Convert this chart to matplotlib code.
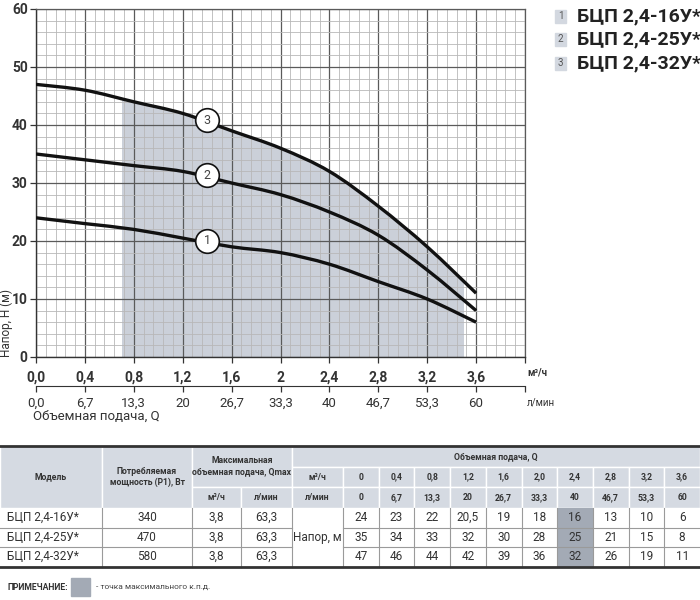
import matplotlib.pyplot as plt
import numpy as np
from matplotlib.patches import Rectangle, PathPatch
from matplotlib.path import Path

plt.rcParams['font.family'] = ['Roboto', 'DejaVu Sans']

# --- data (from the reference table) ---
q_m3h = [0, 0.4, 0.8, 1.2, 1.6, 2.0, 2.4, 2.8, 3.2, 3.6]
q_m3h_labels = ['0', '0,4', '0,8', '1,2', '1,6', '2,0', '2,4', '2,8', '3,2', '3,6']
q_lpm_labels = ['0', '6,7', '13,3', '20', '26,7', '33,3', '40', '46,7', '53,3', '60']
models = ['БЦП 2,4-16У*', 'БЦП 2,4-25У*', 'БЦП 2,4-32У*']
power_w = [340, 470, 580]
qmax_m3h = ['3,8', '3,8', '3,8']
qmax_lpm = ['63,3', '63,3', '63,3']
head_16 = [24, 23, 22, 20.5, 19, 18, 16, 13, 10, 6]
head_25 = [35, 34, 33, 32, 30, 28, 25, 21, 15, 8]
head_32 = [47, 46, 44, 42, 39, 36, 32, 26, 19, 11]
heads = [head_16, head_25, head_32]
best_q = 2.4  # max efficiency point
work_range = (0.7, 3.5)  # shaded working zone, m3/h

x_ticks = [0, 0.4, 0.8, 1.2, 1.6, 2.0, 2.4, 2.8, 3.2, 3.6, 4.0]
x_tick_labels = ['0,0', '0,4', '0,8', '1,2', '1,6', '2', '2,4', '2,8', '3,2', '3,6', '']
lpm_tick_labels = ['0,0', '6,7', '13,3', '20', '26,7', '33,3', '40', '46,7', '53,3', '60', '']


def smooth_path(xs, ys):
    # cubic bezier through every data point (Catmull-Rom style handles)
    p = np.column_stack([xs, ys]).astype(float)
    ext = np.vstack([p[0], p, p[-1]])
    verts = [p[0]]
    codes = [Path.MOVETO]
    for i in range(len(p) - 1):
        a, b, c, d = ext[i], ext[i + 1], ext[i + 2], ext[i + 3]
        verts += [b + (c - a) / 6, c - (d - b) / 6, c]
        codes += [Path.CURVE4] * 3
    return verts, codes


fig = plt.figure(figsize=(7, 6), dpi=100)
W, H = 700, 600

# main chart
ax = fig.add_axes([36 / W, 1 - 357 / H, 489 / W, 348 / H])
ax.set_xlim(0, 4.0)
ax.set_ylim(0, 60)
ax.set_xticks(x_ticks, labels=x_tick_labels)
ax.set_yticks(range(0, 61, 10))
ax.set_xticks(np.arange(0, 4.001, 0.08), minor=True)
ax.set_yticks(range(0, 61, 2), minor=True)
ax.grid(which='major', color='#5a5a5a', linewidth=0.9)
ax.grid(which='minor', color='#b8b8b8', linewidth=0.6)
ax.set_axisbelow(True)
ax.tick_params(which='minor', length=0)
ax.tick_params(which='major', length=4, width=0.9, color='#333333',
               labelsize=10, pad=6)
ax.tick_params(axis='y', pad=2)
for lab in ax.get_xticklabels() + ax.get_yticklabels():
    lab.set_fontweight('bold')
    lab.set_color('#333333')
for side in ['top', 'right']:
    ax.spines[side].set_color('#5a5a5a')
    ax.spines[side].set_linewidth(0.9)
for side in ['left', 'bottom']:
    ax.spines[side].set_color('#333333')
    ax.spines[side].set_linewidth(1.0)

# shaded working zone under the top curve
v, c = smooth_path(q_m3h, head_32)
v = v + [(q_m3h[-1], 0), (q_m3h[0], 0), v[0]]
c = c + [Path.LINETO, Path.LINETO, Path.CLOSEPOLY]
shade = PathPatch(Path(v, c), facecolor='#cbd0d9', edgecolor='none', zorder=0.2)
ax.add_patch(shade)
clip = Rectangle((work_range[0], 0), work_range[1] - work_range[0], 60,
                 transform=ax.transData)
shade.set_clip_path(clip)

for i, h in enumerate(heads):
    v, c = smooth_path(q_m3h, h)
    ax.add_patch(PathPatch(Path(v, c), facecolor='none', edgecolor='#111111',
                           linewidth=2.4, capstyle='butt', zorder=3))
    yc = np.interp(1.4, q_m3h, h) + 0.3
    ax.plot(1.4, yc, 'o', markersize=17, markerfacecolor='white',
            markeredgecolor='#111111', markeredgewidth=1.2, zorder=4)
    ax.text(1.4, yc, str(i + 1), ha='center', va='center', fontsize=9,
            color='#444444', zorder=5)

# second (l/min) axis
sec = ax.secondary_xaxis(-0.083, functions=(lambda q: q * 1000 / 60,
                                            lambda l: l * 60 / 1000))
sec.set_xticks(np.array(x_ticks) * 1000 / 60, labels=lpm_tick_labels)
sec.tick_params(length=4, width=0.9, color='#333333', labelsize=9.5, pad=4,
                labelcolor='#333333')
sec.spines['bottom'].set_color('#333333')

# overlay in pixel coordinates for texts and table
ov = fig.add_axes([0, 0, 1, 1])
ov.set_xlim(0, W)
ov.set_ylim(H, 0)
ov.axis('off')

ov.text(527, 372, 'м³/ч', fontsize=7, fontweight='bold', color='#333333', va='center')
ov.text(527, 402, 'л/мин', fontsize=7, color='#333333', va='center')
ov.text(33, 416, 'Объемная подача, Q', fontsize=9.5, color='#333333', va='center')
ov.text(6.5, 357, 'Напор, Н (м)', fontsize=8.5, color='#333333', rotation=90,
        ha='center', va='bottom')

# legend at top right
for i, name in enumerate(models):
    yy = 16 + i * 23.5
    ov.add_patch(Rectangle((555, yy - 6.5), 11, 13, color='#d3d8e0'))
    ov.text(560.5, yy, str(i + 1), ha='center', va='center', fontsize=7,
            color='#555555')
    ov.text(577, yy, name, ha='left', va='center', fontsize=14,
            fontweight='bold', color='#222222')

# ---- table ----
hdr_bg = '#d5dae2'
best_bg = '#a3aab5'
line_c = '#9a9a9a'
col_x = [0, 102, 192, 241, 292, 343] + [343 + (700 - 343) * k / 10 for k in range(1, 11)]
row_y = [446, 467, 487, 508, 527.5, 547, 566.5]
hfs = 6.2
dfs = 8.5


def cell(x0, x1, y0, y1, txt='', bg=None, bold=False, fs=hfs, ha='center',
         edge='white'):
    if bg is not None:
        ov.add_patch(Rectangle((x0, y0), x1 - x0, y1 - y0, facecolor=bg,
                               edgecolor=edge, linewidth=1.0))
    if txt:
        tx = (x0 + x1) / 2 if ha == 'center' else x0 + 7
        ov.text(tx, (y0 + y1) / 2, txt, ha=ha, va='center', fontsize=fs,
                fontweight='bold' if bold else 'normal', color='#333333',
                linespacing=1.3)


# header
cell(col_x[0], col_x[1], row_y[0], row_y[3], 'Модель', hdr_bg, True)
cell(col_x[1], col_x[2], row_y[0], row_y[3], 'Потребляемая\nмощность (P1), Вт', hdr_bg, True)
cell(col_x[2], col_x[4], row_y[0], row_y[2], 'Максимальная\nобъемная подача, Qmax', hdr_bg, True)
cell(col_x[2], col_x[3], row_y[2], row_y[3], 'м³/ч', hdr_bg, True)
cell(col_x[3], col_x[4], row_y[2], row_y[3], 'л/мин', hdr_bg, True)
cell(col_x[4], col_x[-1], row_y[0], row_y[1], 'Объемная подача, Q', hdr_bg, True)
cell(col_x[4], col_x[5], row_y[1], row_y[2], 'м³/ч', hdr_bg, True)
cell(col_x[4], col_x[5], row_y[2], row_y[3], 'л/мин', hdr_bg, True)
for k in range(10):
    cell(col_x[5 + k], col_x[6 + k], row_y[1], row_y[2], q_m3h_labels[k], hdr_bg, True)
    cell(col_x[5 + k], col_x[6 + k], row_y[2], row_y[3], q_lpm_labels[k], hdr_bg, True)

# data rows
for r in range(3):
    y0, y1 = row_y[3 + r], row_y[4 + r]
    cell(col_x[0], col_x[1], y0, y1, models[r], ha='left', fs=dfs)
    cell(col_x[1], col_x[2], y0, y1, str(power_w[r]), fs=dfs)
    cell(col_x[2], col_x[3], y0, y1, qmax_m3h[r], fs=dfs)
    cell(col_x[3], col_x[4], y0, y1, qmax_lpm[r], fs=dfs)
    for k in range(10):
        val = heads[r][k]
        txt = (str(val).replace('.', ',') if val % 1 else str(int(val)))
        if q_m3h[k] == best_q:
            ov.add_patch(Rectangle((col_x[5 + k], y0), col_x[6 + k] - col_x[5 + k],
                                   y1 - y0, facecolor=best_bg, edgecolor='none'))
        cell(col_x[5 + k], col_x[6 + k], y0, y1, txt, fs=dfs)
cell(col_x[4], col_x[5], row_y[3], row_y[6], 'Напор, м', fs=dfs)

# grid lines of the data area
for yy in row_y[4:6]:
    ov.plot([col_x[0], col_x[4]], [yy, yy], color=line_c, linewidth=0.8)
    ov.plot([col_x[5], col_x[-1]], [yy, yy], color=line_c, linewidth=0.8)
for xx in col_x[1:-1]:
    ov.plot([xx, xx], [row_y[3], row_y[6]], color=line_c, linewidth=0.8)
ov.plot([0, W], [row_y[0], row_y[0]], color='#333333', linewidth=2.0)
ov.plot([0, W], [row_y[6], row_y[6]], color='#333333', linewidth=2.0)

# note
ov.text(8, 587, 'ПРИМЕЧАНИЕ:', fontsize=6.2, fontweight='bold', color='#333333',
        va='center')
ov.add_patch(Rectangle((71, 578), 19, 18, color=best_bg))
ov.text(96, 587, '- точка максимального к.п.д.', fontsize=6, color='#444444',
        va='center')

fig.savefig('out.png', dpi=100)
